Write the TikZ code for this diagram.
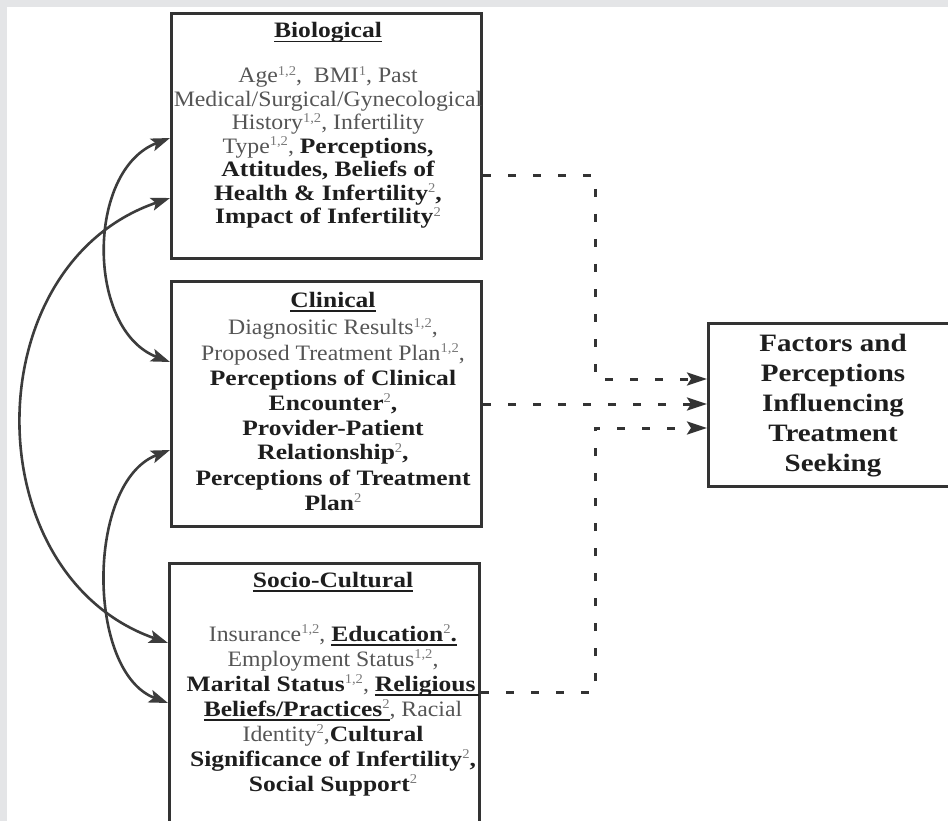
\documentclass[tikz,border=0pt]{standalone}
\usepackage{fontspec}
\setmainfont{Liberation Serif}[FakeStretch=1.08]
\newfontfamily\bff{Liberation Serif Bold}[FakeStretch=1.16]
\usetikzlibrary{arrows.meta}
\definecolor{bggray}{HTML}{E4E5E7}
\definecolor{boxc}{HTML}{333333}
\definecolor{regc}{HTML}{555555}
\definecolor{boldc}{HTML}{1E1E1E}
\definecolor{supc}{HTML}{7A7A7A}
\definecolor{arrc}{HTML}{3C3C3C}
\newcommand\rg[1]{{\color{regc}#1}}
\newcommand\bd[1]{{\bff\color{boldc}#1}}
\newcommand\sps[1]{\raisebox{0.36em}{\normalfont\fontsize{13.5}{13.5}\selectfont\color{supc}#1}}
\newcommand\undl[1]{\leavevmode\setbox0\hbox{#1}\rlap{\rule[-4.5pt]{\wd0}{1.5pt}}\box0}
\tikzset{
  box/.style={draw=boxc, line width=3pt, inner sep=0pt, fill=white},
  txt/.style={anchor=base, inner sep=0pt},
  arr/.style={draw=arrc, line width=2.6pt, {Stealth[length=19pt,width=13pt,inset=4pt]}-{Stealth[length=19pt,width=13pt,inset=4pt]}},
  dsh/.style={draw=boxc, line width=3pt, dash pattern=on 8pt off 17pt, -{Stealth[length=20pt,width=13pt,inset=4pt]}}
}
\begin{document}
\begin{tikzpicture}[x=1pt,y=-1pt]
\useasboundingbox (0,0) rectangle (948,821);
\fill[bggray] (0,0) rectangle (948,821);
\fill[white] (7,7) rectangle (948,821);

% boxes
\node[box, minimum width=310pt, minimum height=245pt] (bio) at (326.5,136) {};
\node[box, minimum width=310pt, minimum height=245pt] (clin) at (326.5,404) {};
\node[box, minimum width=310pt, minimum height=300pt] (socio) at (324.5,713.5) {};
\node[box, minimum width=251.5pt, minimum height=163pt] (fact) at (834.25,405) {};

% texts
\node[txt] (biotext) at (328,38) {\parbox[t]{400pt}{\centering\fontsize{22}{23.5}\selectfont\lineskiplimit=-100pt\lineskip=0pt\leavevmode
\bd{\undl{Biological}}\\[21.5pt]
\rg{Age\sps{1,2},\ \ BMI\sps{1}, Past}\\
\rg{Medical/Surgical/Gynecological}\\
\rg{History\sps{1,2}, Infertility}\\
\rg{Type\sps{1,2},} \bd{Perceptions,}\\
\bd{Attitudes, Beliefs of}\\
\bd{Health \& Infertility\sps{2},}\\
\bd{Impact of Infertility\sps{2}}}};

\node[txt] (clintext) at (333,307) {\parbox[t]{400pt}{\centering\fontsize{22}{25}\selectfont\lineskiplimit=-100pt\lineskip=0pt\leavevmode
\bd{\undl{Clinical}}\\[3pt]
\rg{Diagnositic Results\sps{1,2},}\\
\rg{Proposed Treatment Plan\sps{1,2},}\\
\bd{Perceptions of Clinical}\\
\bd{Encounter\sps{2},}\\
\bd{Provider-Patient}\\
\bd{Relationship\sps{2},}\\
\bd{Perceptions of Treatment}\\
\bd{Plan\sps{2}}}};

\node[txt] (sociotext) at (333,587) {\parbox[t]{400pt}{\centering\fontsize{22}{25}\selectfont\lineskiplimit=-100pt\lineskip=0pt\leavevmode
\bd{\undl{Socio-Cultural}}\\[29pt]
\rg{Insurance\sps{1,2},} \bd{\undl{Education\sps{2}.}}\\
\rg{Employment Status\sps{1,2},}\\
\bd{Marital Status}\sps{1,2}\rg{,} \bd{\undl{Religious\,}}\\
\bd{\undl{Beliefs/Practices\sps{2}}}\rg{, Racial}\\
\rg{Identity\sps{2},}\bd{Cultural}\\
\bd{Significance of Infertility\sps{2},}\\
\bd{Social Support\sps{2}}}};

\node[txt] (facttext) at (833,351) {\parbox[t]{300pt}{\centering\fontsize{25}{30.2}\selectfont\lineskiplimit=-100pt\lineskip=0pt\leavevmode
\bd{Factors and\\Perceptions\\Influencing\\Treatment\\Seeking}}};

% left curved double arrows
\draw[arr] ([yshift=-2pt]bio.west) .. controls (86,170) and (86,330) .. ([yshift=42pt]clin.west);
\draw[arr] ([yshift=-62pt]bio.west) .. controls (-26,265) and (-26,575) .. ([yshift=70.5pt]socio.west);
\draw[arr] ([yshift=-46pt]clin.west) .. controls (86,482) and (86,672) .. ([yshift=10.5pt]socio.west);

% dashed connectors
\coordinate (j1) at (595,379);
\coordinate (j3) at (595,428);
\draw[dsh] ([yshift=-40pt]bio.east) -| (j1) -- ([yshift=26pt]fact.west);
\draw[dsh] (clin.east) -- (clin.east -| fact.west);
\draw[dsh] ([yshift=21.5pt]socio.east) -| (j3) -- ([yshift=-23pt]fact.west);
\end{tikzpicture}
\end{document}
